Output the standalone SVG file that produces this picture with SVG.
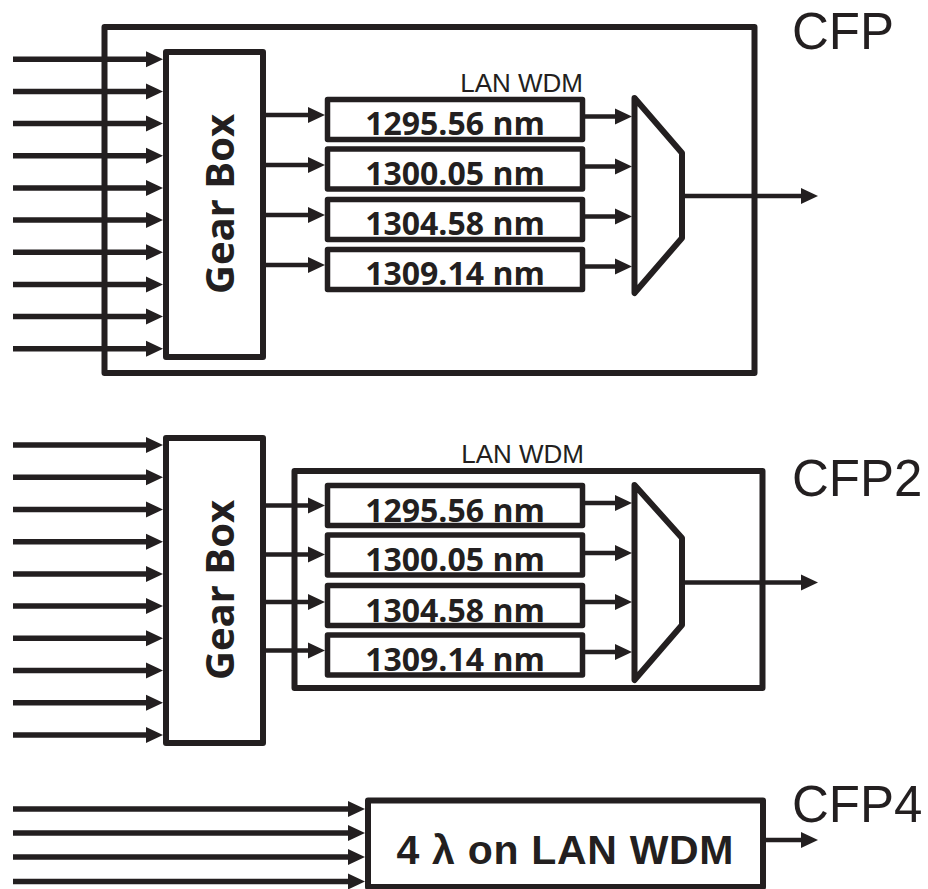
<svg xmlns="http://www.w3.org/2000/svg" width="928" height="889" viewBox="0 0 928 889">
<style>
.box{fill:#fff;stroke:#231f20;stroke-width:6;stroke-linejoin:round}
.wl{fill:#fff;stroke:#231f20;stroke-width:5.5;stroke-linejoin:round}
.mux{fill:#fff;stroke:#231f20;stroke-width:6;stroke-linejoin:round}
.in{stroke:#231f20;stroke-width:5.5;fill:none}
.ln{stroke:#231f20;stroke-width:4.5;fill:none}
.nm{font-family:"Open Sans","DejaVu Sans",sans-serif;font-weight:bold;font-size:32px;fill:#231f20;text-anchor:middle}
.gb{font-family:"Open Sans","DejaVu Sans",sans-serif;font-weight:bold;font-size:40px;fill:#231f20;text-anchor:middle}
.lan{font-family:"Liberation Sans",Arial,sans-serif;font-size:26px;fill:#231f20;text-anchor:end}
.cfp{font-family:"Liberation Sans",Arial,sans-serif;font-size:51px;fill:#231f20}
.big{font-family:"Liberation Sans",Arial,sans-serif;font-weight:bold;font-size:41px;fill:#231f20;text-anchor:middle}
</style>
<defs>
<marker id="ah" markerUnits="userSpaceOnUse" markerWidth="17" markerHeight="17" refX="9" refY="8.5" orient="auto">
<path d="M0,0.5 L17,8.5 L0,16.5 z" fill="#231f20"/>
</marker>
</defs>

<!-- CFP -->
<g id="cfp">
<rect class="box" x="104.5" y="27" width="650" height="346"/>
<text class="cfp" x="792" y="49">CFP</text>
</g>
<g id="cfp-gearbox">
<rect class="box" x="166" y="52" width="97" height="305"/>
<text class="gb" transform="translate(234,204) rotate(-90)">Gear Box</text>
</g>
<g id="cfp-lanwdm">
<text class="lan" x="583" y="92">LAN WDM</text>
</g>
<g id="cfp-l1"><rect class="wl" x="327.5" y="99.5" width="255" height="40"/><text class="nm" x="455" y="135">1295.56 nm</text></g>
<g id="cfp-l2"><rect class="wl" x="327.5" y="149" width="255" height="40"/><text class="nm" x="455" y="184.5">1300.05 nm</text></g>
<g id="cfp-l3"><rect class="wl" x="327.5" y="199.5" width="255" height="40"/><text class="nm" x="455" y="235">1304.58 nm</text></g>
<g id="cfp-l4"><rect class="wl" x="327.5" y="249.5" width="255" height="40"/><text class="nm" x="455" y="285">1309.14 nm</text></g>
<g id="cfp-mux"><polygon class="mux" points="634.5,98 682,153 682,238 634.5,293"/></g>

<!-- CFP2 -->
<g id="cfp2">
<rect class="box" x="294.5" y="471" width="468" height="217"/>
<text class="cfp" x="792" y="496">CFP2</text>
<text class="lan" x="584" y="463">LAN WDM</text>
</g>
<g id="cfp2-gearbox">
<rect class="box" x="166" y="438" width="97" height="305"/>
<text class="gb" transform="translate(234,590) rotate(-90)">Gear Box</text>
</g>
<g id="cfp2-l1"><rect class="wl" x="327.5" y="485.5" width="255" height="40"/><text class="nm" x="455" y="521.5">1295.56 nm</text></g>
<g id="cfp2-l2"><rect class="wl" x="327.5" y="535" width="255" height="40"/><text class="nm" x="455" y="571">1300.05 nm</text></g>
<g id="cfp2-l3"><rect class="wl" x="327.5" y="585.5" width="255" height="40"/><text class="nm" x="455" y="621.5">1304.58 nm</text></g>
<g id="cfp2-l4"><rect class="wl" x="327.5" y="635" width="255" height="40"/><text class="nm" x="455" y="671">1309.14 nm</text></g>
<g id="cfp2-mux"><polygon class="mux" points="634.5,485 682,538 682,625 634.5,680"/></g>

<!-- CFP4 -->
<g id="cfp4">
<rect class="box" x="368" y="800.5" width="395" height="86.5"/>
<text class="big" x="565" y="864" textLength="337">4 λ on LAN WDM</text>
<text class="cfp" x="792" y="822">CFP4</text>
</g>

<g id="connectors">
<!-- CFP inputs -->
<line class="in" x1="13" y1="59.3" x2="155" y2="59.3" marker-end="url(#ah)"/>
<line class="in" x1="13" y1="91.5" x2="155" y2="91.5" marker-end="url(#ah)"/>
<line class="in" x1="13" y1="123.6" x2="155" y2="123.6" marker-end="url(#ah)"/>
<line class="in" x1="13" y1="155.8" x2="155" y2="155.8" marker-end="url(#ah)"/>
<line class="in" x1="13" y1="187.9" x2="155" y2="187.9" marker-end="url(#ah)"/>
<line class="in" x1="13" y1="220.1" x2="155" y2="220.1" marker-end="url(#ah)"/>
<line class="in" x1="13" y1="252.2" x2="155" y2="252.2" marker-end="url(#ah)"/>
<line class="in" x1="13" y1="284.4" x2="155" y2="284.4" marker-end="url(#ah)"/>
<line class="in" x1="13" y1="316.5" x2="155" y2="316.5" marker-end="url(#ah)"/>
<line class="in" x1="13" y1="348.7" x2="155" y2="348.7" marker-end="url(#ah)"/>
<!-- CFP gearbox to lasers -->
<line class="ln" x1="263" y1="115" x2="317" y2="115" marker-end="url(#ah)"/>
<line class="ln" x1="263" y1="165" x2="317" y2="165" marker-end="url(#ah)"/>
<line class="ln" x1="263" y1="215" x2="317" y2="215" marker-end="url(#ah)"/>
<line class="ln" x1="263" y1="265" x2="317" y2="265" marker-end="url(#ah)"/>
<!-- CFP lasers to mux -->
<line class="ln" x1="582.5" y1="116.5" x2="624" y2="116.5" marker-end="url(#ah)"/>
<line class="ln" x1="582.5" y1="166.5" x2="624" y2="166.5" marker-end="url(#ah)"/>
<line class="ln" x1="582.5" y1="216.5" x2="624" y2="216.5" marker-end="url(#ah)"/>
<line class="ln" x1="582.5" y1="266.5" x2="624" y2="266.5" marker-end="url(#ah)"/>
<!-- CFP output -->
<line class="ln" x1="682" y1="196" x2="810" y2="196" marker-end="url(#ah)"/>

<!-- CFP2 inputs -->
<line class="in" x1="13" y1="445" x2="155" y2="445" marker-end="url(#ah)"/>
<line class="in" x1="13" y1="477.2" x2="155" y2="477.2" marker-end="url(#ah)"/>
<line class="in" x1="13" y1="509.4" x2="155" y2="509.4" marker-end="url(#ah)"/>
<line class="in" x1="13" y1="541.7" x2="155" y2="541.7" marker-end="url(#ah)"/>
<line class="in" x1="13" y1="573.9" x2="155" y2="573.9" marker-end="url(#ah)"/>
<line class="in" x1="13" y1="606.1" x2="155" y2="606.1" marker-end="url(#ah)"/>
<line class="in" x1="13" y1="638.3" x2="155" y2="638.3" marker-end="url(#ah)"/>
<line class="in" x1="13" y1="670.6" x2="155" y2="670.6" marker-end="url(#ah)"/>
<line class="in" x1="13" y1="702.8" x2="155" y2="702.8" marker-end="url(#ah)"/>
<line class="in" x1="13" y1="735" x2="155" y2="735" marker-end="url(#ah)"/>
<!-- CFP2 gearbox to lasers -->
<line class="ln" x1="263" y1="505.5" x2="317" y2="505.5" marker-end="url(#ah)"/>
<line class="ln" x1="263" y1="554.5" x2="317" y2="554.5" marker-end="url(#ah)"/>
<line class="ln" x1="263" y1="602" x2="317" y2="602" marker-end="url(#ah)"/>
<line class="ln" x1="263" y1="650.5" x2="317" y2="650.5" marker-end="url(#ah)"/>
<!-- CFP2 lasers to mux -->
<line class="ln" x1="582.5" y1="503" x2="624" y2="503" marker-end="url(#ah)"/>
<line class="ln" x1="582.5" y1="553" x2="624" y2="553" marker-end="url(#ah)"/>
<line class="ln" x1="582.5" y1="602" x2="624" y2="602" marker-end="url(#ah)"/>
<line class="ln" x1="582.5" y1="652" x2="624" y2="652" marker-end="url(#ah)"/>
<!-- CFP2 output -->
<line class="ln" x1="682" y1="582.5" x2="810" y2="582.5" marker-end="url(#ah)"/>

<!-- CFP4 inputs -->
<line class="in" x1="13" y1="809" x2="357" y2="809" marker-end="url(#ah)"/>
<line class="in" x1="13" y1="833" x2="357" y2="833" marker-end="url(#ah)"/>
<line class="in" x1="13" y1="857" x2="357" y2="857" marker-end="url(#ah)"/>
<line class="in" x1="13" y1="881.5" x2="357" y2="881.5" marker-end="url(#ah)"/>
<!-- CFP4 output -->
<line class="ln" x1="763" y1="840" x2="810" y2="840" marker-end="url(#ah)"/>
</g>
</svg>
